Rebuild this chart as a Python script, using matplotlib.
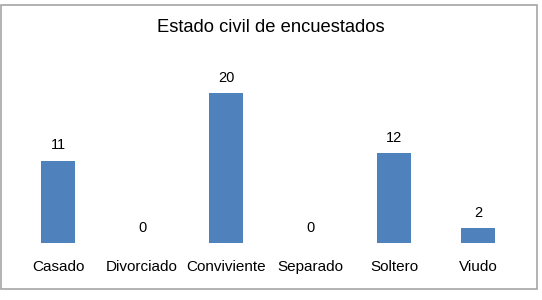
import matplotlib
matplotlib.use('Agg')
import matplotlib.pyplot as plt
from matplotlib.patches import Rectangle

plt.rcParams['font.family'] = ['Liberation Sans', 'DejaVu Sans']

# data
categorias = ['Casado', 'Divorciado', 'Conviviente', 'Separado', 'Soltero', 'Viudo']
valores = [11, 0, 20, 0, 12, 2]

fig = plt.figure(figsize=(5.42, 3.0), dpi=100)
ax = fig.add_axes([0.0295, 0.19, 0.93, 0.625])

x = range(len(categorias))
bars = ax.bar(x, valores, width=0.4, color='#4F81BD')

for xi, v in zip(x, valores):
    ax.text(xi, v + 1.1, str(v), ha='center', va='bottom', fontsize=10.5, color='#000000')

ax.set_xlim(-0.5, len(categorias) - 0.5)
ax.set_ylim(0, 25)
ax.set_xticks(list(x))
ax.set_xticklabels(categorias, fontsize=11)
ax.tick_params(axis='x', length=0, pad=12.5)
ax.set_yticks([])
for s in ax.spines.values():
    s.set_visible(False)

fig.text(0.5, 0.908, 'Estado civil de encuestados', ha='center', va='center', fontsize=13.2)

# borde del grafico
fig.patches.append(Rectangle((0.002, 0.037), 0.988, 0.945, transform=fig.transFigure,
                             fill=False, edgecolor='#a6a6a6', linewidth=1.2))

fig.savefig('out.png', dpi=100)
